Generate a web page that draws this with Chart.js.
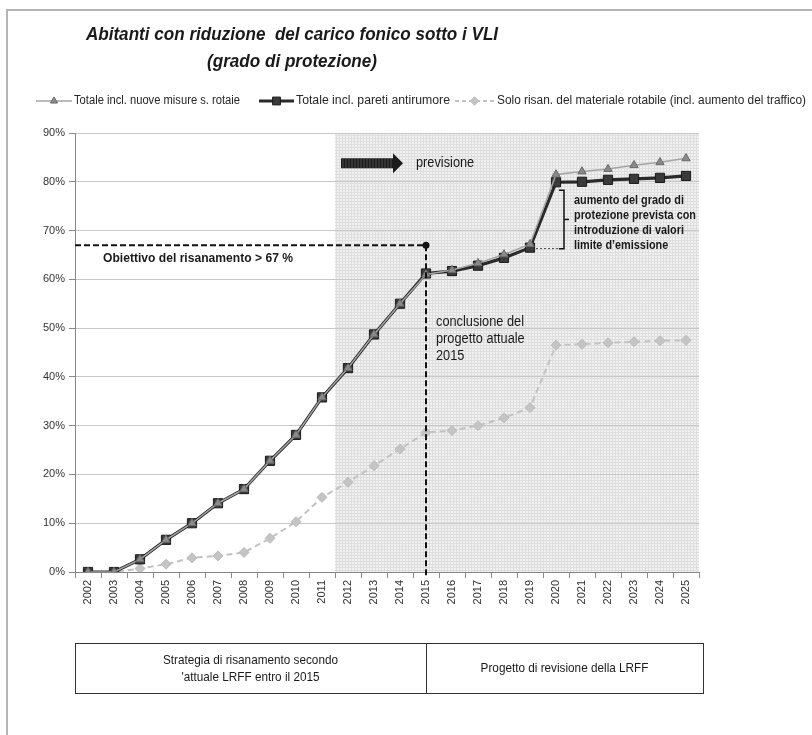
<!DOCTYPE html>
<html><head><meta charset="utf-8">
<script src="https://cdn.jsdelivr.net/npm/chart.js@4/dist/chart.umd.min.js"></script>
<style>html,body{margin:0;padding:0;background:#fff;}#wrap{width:812px;height:735px;position:relative;}</style>
</head><body><div id="wrap"><canvas id="c" width="812" height="735"></canvas></div>
<script>
// ---- data ----
const years = ['2002','2003','2004','2005','2006','2007','2008','2009','2010','2011','2012','2013','2014','2015','2016','2017','2018','2019','2020','2021','2022','2023','2024','2025'];
const totaleNuoveMisure = [0,0,2.6,6.6,10.0,14.1,17.0,22.8,28.1,35.8,41.8,48.7,55.0,61.0,61.9,63.3,65.1,67.2,81.5,82.1,82.6,83.4,84.0,84.8];
const totalePareti      = [0,0,2.6,6.6,10.0,14.1,17.0,22.8,28.1,35.8,41.8,48.7,55.0,61.2,61.7,62.8,64.4,66.5,79.9,80.0,80.4,80.6,80.8,81.2];
const soloRisan         = [0,0,0.7,1.6,2.9,3.3,4.0,6.9,10.3,15.3,18.4,21.8,25.2,28.6,29.0,30.0,31.6,33.7,46.5,46.7,47.0,47.2,47.4,47.5];
const yTickValues = [0,10,20,30,40,50,60,70,80,90];
const seriesNames = ['Totale incl. nuove misure s. rotaie','Totale incl. pareti antirumore','Solo risan. del materiale rotabile (incl. aumento del traffico)'];
const targetValue = 67;
const targetYear = '2015';
const forecastStartAfter = '2011';
const titleLines = ['Abitanti con riduzione  del carico fonico sotto i VLI','(grado di protezione)'];
const bracketLines = ['aumento del grado di','protezione prevista con','introduzione di valori','limite d\u2019emissione'];
const conclLines = ['conclusione del','progetto attuale','2015'];
const tableLeft = ['Strategia di risanamento secondo','\'attuale LRFF entro il 2015'];
const tableRight = 'Progetto di revisione della LRFF';

const FF = '"Liberation Sans", Arial, sans-serif';

function txt(ctx, s, x, y, font, opt) {
  opt = opt || {};
  ctx.save();
  ctx.font = font;
  const w = ctx.measureText(s).width;
  const sx = opt.w ? opt.w / w : (opt.sx || 0.88);
  const dw = w * sx;
  let x0 = x;
  if (opt.align === 'center') x0 = x - dw / 2;
  else if (opt.align === 'right') x0 = x - dw;
  ctx.translate(x0, y);
  ctx.scale(sx, 1);
  ctx.fillStyle = opt.color || '#1a1a1a';
  ctx.textBaseline = 'middle';
  ctx.textAlign = 'left';
  ctx.fillText(s, 0, 0);
  ctx.restore();
  return sx;
}

function makePattern(ctx) {
  const p = document.createElement('canvas');
  p.width = 3; p.height = 3;
  const g = p.getContext('2d');
  g.fillStyle = '#f1f1f1'; g.fillRect(0,0,3,3);
  g.fillStyle = '#dedede'; g.fillRect(0,0,3,1); g.fillRect(0,0,1,3);
  return ctx.createPattern(p, 'repeat');
}

const decor = {
  id: 'decor',
  beforeDraw(chart) {
    const ctx = chart.ctx, ca = chart.chartArea, x = chart.scales.x;
    ctx.save();
    ctx.fillStyle = '#fff'; ctx.fillRect(0,0,chart.width,chart.height);
    ctx.strokeStyle = '#b4b4b4'; ctx.lineWidth = 2;
    ctx.strokeRect(7, 10, 1000, 1000);
    const i = years.indexOf(forecastStartAfter);
    const xs = (x.getPixelForValue(i) + x.getPixelForValue(i + 1)) / 2;
    ctx.fillStyle = makePattern(ctx);
    ctx.fillRect(xs, ca.top, ca.right - xs, ca.bottom - ca.top);
    ctx.restore();
  },
  afterDatasetsDraw(chart) {
    const ctx = chart.ctx, ca = chart.chartArea, x = chart.scales.x, y = chart.scales.y;
    const ds = chart.data.datasets;
    ctx.save();
    const ti = years.indexOf(targetYear);
    const tx = x.getPixelForValue(ti), ty = y.getPixelForValue(targetValue);
    ctx.strokeStyle = '#111'; ctx.lineWidth = 2; ctx.setLineDash([6,3]);
    ctx.beginPath(); ctx.moveTo(ca.left, ty); ctx.lineTo(tx, ty); ctx.stroke();
    ctx.beginPath(); ctx.moveTo(tx, ty); ctx.lineTo(tx, ca.bottom + 6); ctx.stroke();
    ctx.setLineDash([]);
    ctx.fillStyle = '#111'; ctx.beginPath(); ctx.arc(tx, ty, 3.5, 0, Math.PI*2); ctx.fill();
    txt(ctx, 'Obiettivo del risanamento > 67 %', ca.left + 28, ty + 13, 'bold 13px ' + FF, {w: 190});
    const csx = txt(ctx, conclLines[0], tx + 10, y.getPixelForValue(51.2), '14px ' + FF, {w: 88});
    conclLines.slice(1).forEach((s, k) => txt(ctx, s, tx + 10, y.getPixelForValue(51.2) + (k + 1) * 17, '14px ' + FF, {sx: csx}));
    const i = years.indexOf(forecastStartAfter);
    const xs = (x.getPixelForValue(i) + x.getPixelForValue(i + 1)) / 2;
    const ay = y.getPixelForValue(83.8);
    ctx.fillStyle = '#1c1c1c';
    ctx.beginPath();
    ctx.moveTo(xs + 6, ay - 5); ctx.lineTo(xs + 58, ay - 5); ctx.lineTo(xs + 58, ay - 10);
    ctx.lineTo(xs + 68, ay); ctx.lineTo(xs + 58, ay + 10); ctx.lineTo(xs + 58, ay + 5);
    ctx.lineTo(xs + 6, ay + 5); ctx.closePath(); ctx.fill();
    ctx.strokeStyle = 'rgba(120,120,120,0.5)'; ctx.lineWidth = 1;
    for (let k = xs + 8; k < xs + 58; k += 3) { ctx.beginPath(); ctx.moveTo(k, ay - 5); ctx.lineTo(k, ay + 5); ctx.stroke(); }
    txt(ctx, 'previsione', xs + 81, ay, '14px ' + FF, {sx: csx});
    const i19 = years.indexOf('2019'), i20 = years.indexOf('2020');
    const x19 = x.getPixelForValue(i19), x20 = x.getPixelForValue(i20);
    const yb = y.getPixelForValue(ds[1].data[i19]) + 1;
    const yt = y.getPixelForValue(ds[1].data[i20]) + 8;
    const bx = x20 + 8;
    ctx.strokeStyle = '#444'; ctx.lineWidth = 1; ctx.setLineDash([2,2]);
    ctx.beginPath(); ctx.moveTo(x19 + 6, yb); ctx.lineTo(bx - 5, yb); ctx.stroke();
    ctx.setLineDash([]);
    ctx.strokeStyle = '#111'; ctx.lineWidth = 1.5;
    ctx.beginPath(); ctx.moveTo(bx - 5, yt); ctx.lineTo(bx, yt); ctx.lineTo(bx, yb); ctx.lineTo(bx - 5, yb); ctx.stroke();
    const ym = (yt + yb) / 2;
    ctx.beginPath(); ctx.moveTo(bx, ym); ctx.lineTo(bx + 5, ym); ctx.stroke();
    const bsx = txt(ctx, bracketLines[1], bx + 10, yt + 10 + 15, 'bold 12.5px ' + FF, {w: 122});
    [0, 2, 3].forEach(k => txt(ctx, bracketLines[k], bx + 10, yt + 10 + k * 15, 'bold 12.5px ' + FF, {sx: bsx}));
    ctx.restore();
  },
  afterDraw(chart) {
    const ctx = chart.ctx, ca = chart.chartArea, x = chart.scales.x;
    const ds = chart.data.datasets;
    ctx.save();
    const sx = txt(ctx, titleLines[1], 292, 62, 'bold italic 18px ' + FF, {w: 170, align: 'center'});
    txt(ctx, titleLines[0], 292, 35, 'bold italic 18px ' + FF, {sx: sx, align: 'center'});
    const ly = 101;
    const items = [
      {x0: 36, x1: 72, tx: 74, w: 166},
      {x0: 259, x1: 294, tx: 296, w: 154},
      {x0: 455, x1: 494, tx: 497, w: 309}
    ];
    items.forEach((it, k) => {
      const d = ds[k];
      ctx.save();
      ctx.strokeStyle = d.borderColor; ctx.lineWidth = d.borderWidth;
      if (d.borderDash) ctx.setLineDash([4,3]);
      ctx.beginPath(); ctx.moveTo(it.x0, ly); ctx.lineTo(it.x1, ly); ctx.stroke();
      ctx.setLineDash([]);
      ctx.fillStyle = d.pointBackgroundColor; ctx.strokeStyle = d.pointBorderColor; ctx.lineWidth = d.pointBorderWidth;
      Chart.helpers.drawPoint(ctx, {pointStyle: d.pointStyle, rotation: 0, radius: d.pointRadius * 0.85, borderWidth: d.pointBorderWidth}, (it.x0 + it.x1) / 2, ly);
      ctx.restore();
      txt(ctx, d.label, it.tx, ly, '12px ' + FF, {w: it.w, color: '#262626'});
    });
    const ti = years.indexOf(targetYear);
    const tx = x.getPixelForValue(ti);
    const tTop = 643, tBot = 693, tL = ca.left, tR = ca.right + 4;
    ctx.strokeStyle = '#333'; ctx.lineWidth = 1;
    ctx.strokeRect(tL + 0.5, tTop + 0.5, tR - tL, tBot - tTop);
    ctx.beginPath(); ctx.moveTo(tx + 0.5, tTop); ctx.lineTo(tx + 0.5, tBot); ctx.stroke();
    const tsx = txt(ctx, tableLeft[0], (tL + tx) / 2, 660, '13px ' + FF, {w: 175, align: 'center'});
    txt(ctx, tableLeft[1], (tL + tx) / 2, 677, '13px ' + FF, {sx: tsx, align: 'center'});
    txt(ctx, tableRight, (tx + tR) / 2, 668, '13px ' + FF, {sx: tsx, align: 'center'});
    ctx.restore();
  }
};

new Chart(document.getElementById('c'), {
  type: 'line',
  data: {
    labels: years,
    datasets: [
      {label: seriesNames[0], data: totaleNuoveMisure, borderColor: '#a4a4a4', borderWidth: 1.5,
       pointStyle: 'triangle', pointRadius: 4.8, pointBackgroundColor: '#8a8a8a', pointBorderColor: '#6a6a6a', pointBorderWidth: 1, tension: 0},
      {label: seriesNames[1], data: totalePareti, borderColor: '#2a2a2a', borderWidth: 3.2,
       pointStyle: 'rect', pointRadius: 6.5, pointBackgroundColor: '#3a3a3a', pointBorderColor: '#1a1a1a', pointBorderWidth: 1, tension: 0},
      {label: seriesNames[2], data: soloRisan, borderColor: '#c2c2c2', borderWidth: 2, borderDash: [6,4],
       pointStyle: 'rectRot', pointRadius: 5, pointBackgroundColor: '#c4c4c4', pointBorderColor: '#bcbcbc', pointBorderWidth: 1, tension: 0}
    ]
  },
  options: {
    responsive: false, animation: false, devicePixelRatio: 1,
    layout: {padding: {top: 133, right: 113, bottom: 123, left: 0}},
    plugins: {legend: {display: false}, tooltip: {enabled: false}, title: {display: false}},
    scales: {
      x: {
        offset: true,
        grid: {offset: true, drawOnChartArea: false, drawTicks: true, tickLength: 6, color: '#8a8a8a'},
        border: {color: '#868686', width: 1},
        ticks: {autoSkip: false, maxRotation: 90, minRotation: 90, color: '#333', font: {family: FF, size: 11}, padding: 2},
        afterFit(s) { s.height = 40; }
      },
      y: {
        min: 0, max: 90,
        afterBuildTicks(s) { s.ticks = yTickValues.map(v => ({value: v})); },
        grid: {color: '#c8c8c8', tickColor: '#8a8a8a', tickLength: 6, lineWidth: 1},
        border: {color: '#868686', width: 1},
        ticks: {color: '#333', font: {family: FF, size: 11}, padding: 4, callback: v => v + '%'},
        afterFit(s) { s.width = 75; }
      }
    }
  },
  plugins: [decor]
});
</script></body></html>
